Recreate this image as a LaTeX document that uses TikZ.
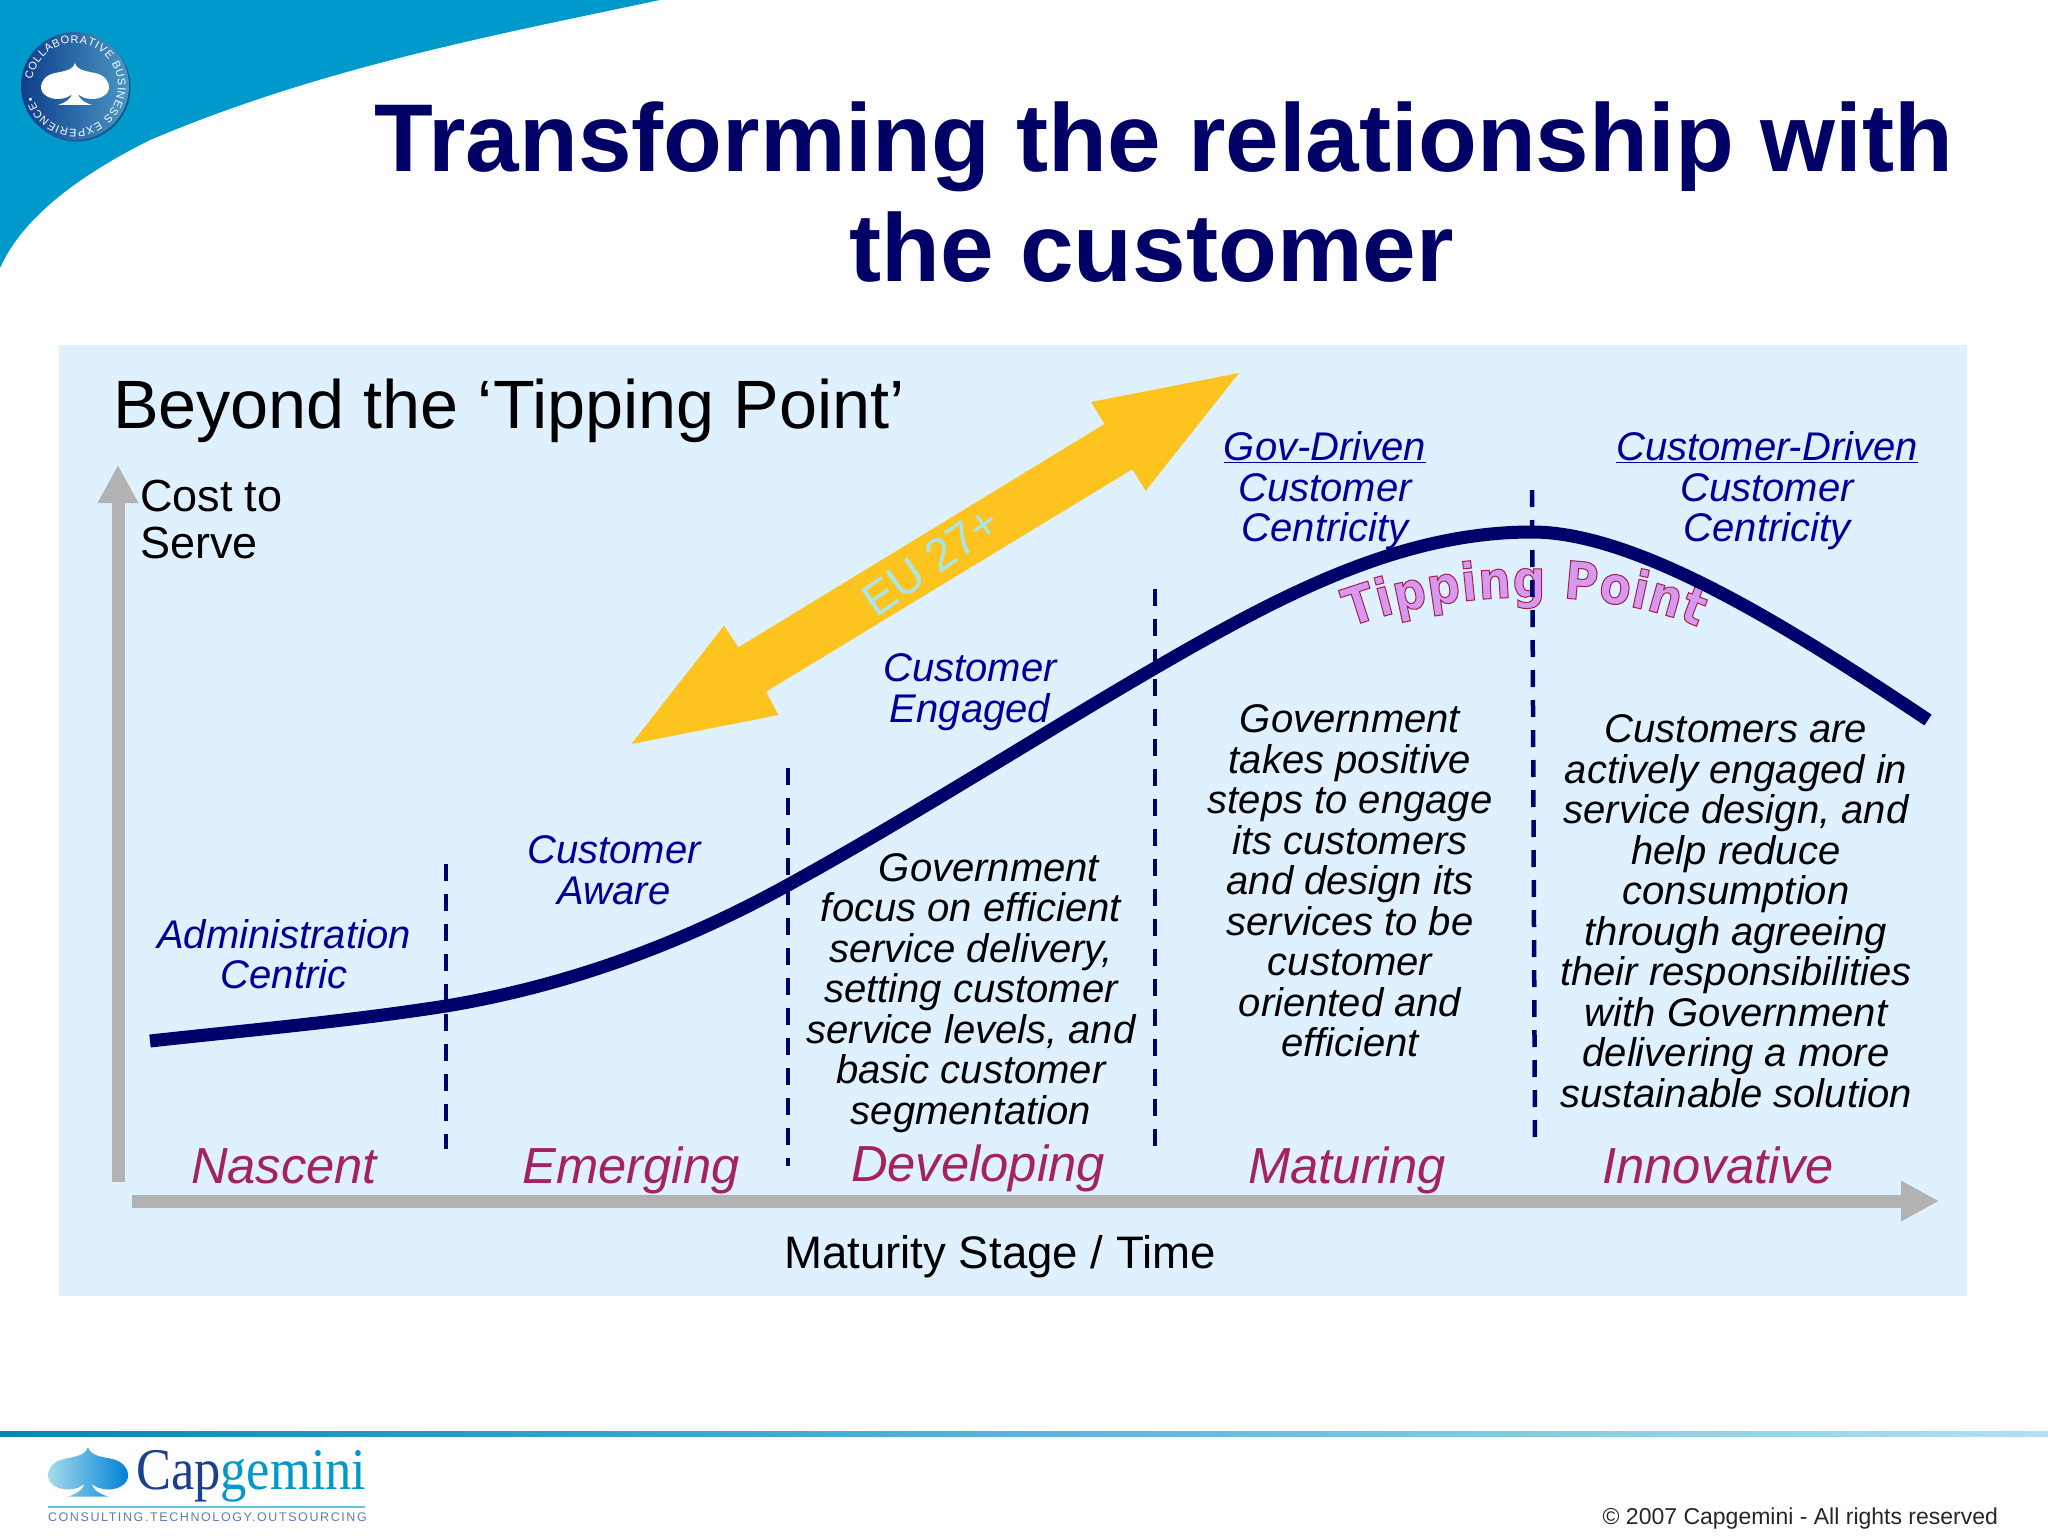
\documentclass[tikz,border=0pt]{standalone}
\usepackage{fontspec}
\setmainfont{Liberation Sans}
\newfontfamily\serifcap[FakeStretch=0.89]{Liberation Serif}
\newfontfamily\tagfont[LetterSpace=12.8]{Liberation Sans}
\newfontfamily\tipfont[FakeStretch=0.88]{DejaVu Sans Bold}
\usetikzlibrary{arrows.meta,decorations.text,shadings}
\definecolor{cornerblue}{HTML}{0099CC}
\definecolor{panelblue}{HTML}{DFF0FE}
\definecolor{titleblue}{HTML}{000066}
\definecolor{labelblue}{HTML}{000099}
\definecolor{curveblue}{HTML}{00006B}
\definecolor{stagered}{HTML}{A3235A}
\definecolor{axisgray}{HTML}{B2B2B2}
\definecolor{eugold}{HTML}{FDC41F}
\definecolor{eutext}{HTML}{A8E6EC}
\definecolor{tipfill}{HTML}{D699EF}
\definecolor{badgedark}{HTML}{0F3D8C}
\definecolor{badgelight}{HTML}{4A97C4}
\definecolor{badgeshadow}{HTML}{155A85}
\definecolor{logodark}{HTML}{1B3F8F}
\makeatletter
\newcommand\tipstroke{\color{tipfill}\pgfsys@invoke{2 Tr 1 w 0.66 0.12 0.30 RG}}
\makeatother
\newcommand\fsz[2]{\fontsize{#1}{#2}\selectfont}
\newcommand\spadeshape{(0,0) .. controls (-2,7) and (-10,8) .. (-20,10) .. controls (-30,12) and (-34,19) .. (-34,24) .. controls (-34,32) and (-25,36) .. (-17,36) .. controls (-11,36) and (-6,34) .. (-3,31) .. controls (-4,36) and (-10,40) .. (-17,42) -- (17,42) .. controls (10,40) and (4,36) .. (3,31) .. controls (6,34) and (11,36) .. (17,36) .. controls (25,36) and (34,32) .. (34,24) .. controls (34,19) and (30,12) .. (20,10) .. controls (10,8) and (2,7) .. (0,0) -- cycle}
\tikzset{
  base/.style={inner sep=0pt,outer sep=0pt},
  bluelabel/.style={base,align=center,text=labelblue,font=\fsz{40}{40.5}\itshape},
  bodytext/.style={base,align=center,text=black,font=\fsz{40}{40.5}\itshape},
  stage/.style={base,anchor=base,text=stagered,font=\fsz{50.7}{56}\itshape},
  stagedash/.style={draw=curveblue,line width=4.5pt,dash pattern=on 17pt off 13pt},
  grayaxis/.style={draw=axisgray,line width=13pt,-{Triangle[length=38pt,width=38pt]}},
}
\begin{document}
\begin{tikzpicture}[x=1pt,y=-1pt]
\useasboundingbox (0,0) rectangle (2048,1536);
% corner
\fill[cornerblue] (660,0) .. controls (490,36) and (320,68) .. (150,140) .. controls (90,170) and (25,212) .. (0,268) -- (0,0) -- cycle;
% badge
\begin{scope}
\fill[badgeshadow] (76.5,87.5) circle[radius=54pt];
\shade[left color=badgedark,right color=badgelight] (75,86) circle[radius=54pt];
\path[decorate,decoration={text along path,text align=fit to path,text={|\fsz{11}{11}\color{white}|COLLABORATIVE BUSINESS EXPERIENCE•}}]
  (75,86) ++(172:43pt) arc[start angle=172,end angle=-165,radius=43pt];
\begin{scope}[shift={(75,63)}]
\fill[white] \spadeshape;
\end{scope}
\end{scope}
% title
\node[base,align=center,text=titleblue,font=\fsz{96.3}{110}\bfseries] (title) at (1164,192) {Transforming the relationship with\\the customer\hspace*{25pt}};
% panel
\fill[panelblue] (59,345) rectangle (1967,1296);
\node[base,anchor=base west,font=\fsz{68.4}{70}] (beyond) at (113,428.5) {Beyond the ‘Tipping Point’};
% gold arrow
\fill[eugold] (1239,373) -- (1091,402) -- (1104.5,424) -- (738.4,647.3) -- (724,625.7) -- (631.4,744) -- (778.4,715) -- (766,691.7) -- (1132.2,469.3) -- (1145.7,490.7) -- cycle;
\node[base,rotate=35,text=eutext,font=\fsz{46}{46}] (eu) at (931,561) {EU 27+};
% axes
\coordinate (vstart) at (118,1182);
\coordinate (vend) at (118,465);
\coordinate (hstart) at (132,1201);
\coordinate (hend) at (1939,1201);
\draw[grayaxis] (vstart) -- (vend);
\draw[grayaxis] (hstart) -- (hend);
\node[base,anchor=north west,align=left,font=\fsz{45}{47}] (cost) at (140,480) {Cost to\\Serve};
\node[base,font=\fsz{45.6}{50}] (maturity) at (1000,1257) {Maturity Stage / Time};
% tipping point text under curve
\path[decorate,decoration={text along path,text align=fit to path,text={|\tipfont\fsz{52}{52}\tipstroke|Tipping Point}}]
  (1350,627) .. controls (1450,590) and (1600,585) .. (1698,627);
% curve
\coordinate (cstart) at (150,1041);
\coordinate (cend) at (1928,720);
\draw[curveblue,line width=13pt] (cstart) .. controls (250,1030) and (350,1021) .. (446,1006) .. controls (560,987) and (674,948) .. (788,885) .. controls (910,818) and (1033,739) .. (1155,668) .. controls (1281,595) and (1400,532) .. (1532,532) .. controls (1640,532) and (1796,632) .. (cend);
% dashes
\coordinate (d1a) at (446,864); \coordinate (d1b) at (446,1149);
\coordinate (d2a) at (788,768); \coordinate (d2b) at (788,1166);
\coordinate (d3a) at (1155,589); \coordinate (d3b) at (1155,1157);
\coordinate (d4a) at (1532,490); \coordinate (d4b) at (1535,1149);
\draw[stagedash] (d1a) -- (d1b);
\draw[stagedash] (d2a) -- (d2b);
\draw[stagedash] (d3a) -- (d3b);
\draw[stagedash] (d4a) -- (d4b);
% labels
\node[bluelabel] (adm) at (284,954) {Administration\\Centric};
\node[bluelabel] (aware) at (614,870) {Customer\\Aware};
\node[bluelabel] (engaged) at (970,692) {Customer\\Engaged};
\node[bluelabel] (gov) at (1325,491) {\underline{Gov-Driven}\\Customer\\Centricity};
\node[bluelabel] (cust) at (1767,491) {\underline{Customer-Driven}\\Customer\\Centricity};
% bodies
\node[bodytext] (bdev) at (971,993) {\hspace*{0.9em}Government\\focus on efficient\\service delivery,\\setting customer\\service levels, and\\basic customer\\segmentation};
\node[bodytext] (bmat) at (1350,881) {Government\\takes positive\\steps to engage\\its customers\\and design its\\services to be\\customer\\oriented and\\efficient};
\node[bodytext] (binn) at (1736,911) {Customers are\\actively engaged in\\service design, and\\help reduce\\consumption\\through agreeing\\their responsibilities\\with Government\\delivering a more\\sustainable solution};
% stages
\node[stage] (s1) at (284,1183.5) {Nascent};
\node[stage] (s2) at (631,1183.5) {Emerging};
\node[stage] (s3) at (978,1181) {Developing};
\node[stage] (s4) at (1347,1183.5) {Maturing};
\node[stage] (s5) at (1718,1183.5) {Innovative};
% footer
\shade[left color=cornerblue!90!black,right color=cornerblue!30!white] (0,1431) rectangle (2048,1436);
\begin{scope}[shift={(88,1447)},scale=1.18]
\shade[left color=cornerblue!35!white,right color=cornerblue!85!blue] \spadeshape;
\end{scope}
\node[base,anchor=base west,font=\serifcap\fsz{59}{59}] (logo) at (136,1489) {\textcolor{logodark}{Cap}\textcolor{cornerblue}{gemini}};
\coordinate (rulea) at (48,1507); \coordinate (ruleb) at (365,1507);
\draw[cornerblue!60!white,line width=1.2pt] (rulea) -- (ruleb);
\node[base,anchor=base west,text=logodark!70!white,font=\tagfont\fsz{12.5}{13}] (tag) at (48,1521) {CONSULTING.TECHNOLOGY.OUTSOURCING};
\node[base,anchor=base east,text=black!85,font=\fsz{23}{24}] (copy) at (1998,1524) {© 2007 Capgemini - All rights reserved};
\end{tikzpicture}
\end{document}
